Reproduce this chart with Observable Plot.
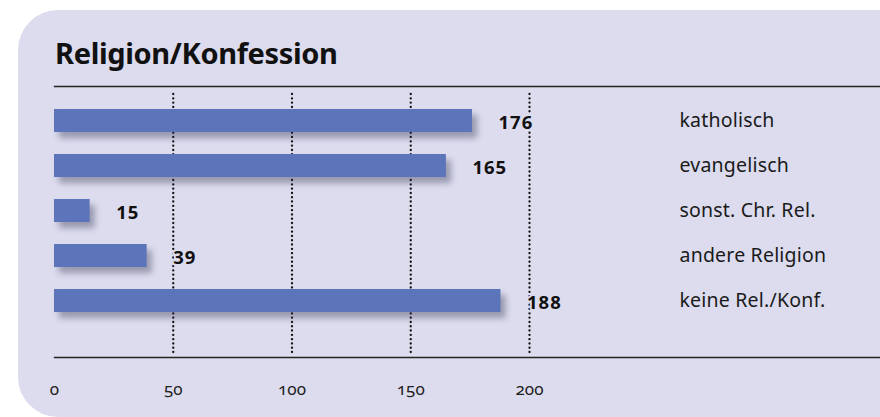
<!DOCTYPE html>
<html>
<head>
<meta charset="utf-8">
<script src="https://cdn.jsdelivr.net/npm/d3@7"></script>
<script src="https://cdn.jsdelivr.net/npm/@observablehq/plot@0.6"></script>
<style>
  html, body { margin: 0; padding: 0; background: #fff; }
  body { width: 880px; height: 417px; overflow: hidden; position: relative; font-family: "Noto Sans", sans-serif; }
  #panel { position: absolute; left: 18px; top: 10px; width: 900px; height: 407px; background: #dcdcee; border-radius: 40px 0 0 40px; }
  #title { position: absolute; left: 55px; top: 33px; font-family: "Noto Sans", sans-serif; font-weight: 700; font-size: 29px; letter-spacing: -0.35px; color: #111; margin: 0; }
  #chart { position: absolute; left: 0; top: 80px; }
  #chart svg { overflow: visible; }
  .xticks text { font-variant-numeric: oldstyle-nums; font-size: 17px; }
  .ycats text { font-size: 19.5px; letter-spacing: 0.2px; }
  .vals text { font-size: 18.5px; letter-spacing: 1px; }
</style>
</head>
<body>
<div id="panel"></div>
<h2 id="title">Religion/Konfession</h2>
<div id="chart"></div>
<script>
const categories = ["katholisch", "evangelisch", "sonst. Chr. Rel.", "andere Religion", "keine Rel./Konf."];
const values = [176, 165, 15, 39, 188];
const xTicks = [0, 50, 100, 150, 200];
const gridTicks = [50, 100, 150, 200];

const data = categories.map((c, i) => ({category: c, value: values[i]}));

const panel = "#dcdcee";
const plot = Plot.plot({
  width: 880,
  height: 337,
  marginLeft: 54,
  marginRight: 201,
  marginTop: 6,
  marginBottom: 60,
  style: {fontFamily: "Noto Sans, sans-serif", background: "transparent", color: "#1a1a1a"},
  x: {domain: [0, 625 / 2.375], axis: null},
  y: {domain: categories, range: [16.7, 243.7], paddingInner: 0.493, paddingOuter: 0.2465, axis: null},
  marks: [
    Plot.ruleX(gridTicks, {stroke: "#111", strokeWidth: 2.3, strokeDasharray: "0.1,4.2", strokeLinecap: "round", insetTop: 8, insetBottom: 3}),
    Plot.frame({anchor: "top", stroke: "#222", strokeWidth: 1.3, insetRight: -201}),
    Plot.frame({anchor: "bottom", stroke: "#222", strokeWidth: 1.3, insetRight: -201}),
    Plot.barX(data, {x: "value", y: "category", fill: "#5c74b9"}),
    Plot.text(data, {x: "value", y: "category", text: d => String(d.value), dx: 26, dy: 2, textAnchor: "start", fontWeight: "bold", fill: "#111", stroke: panel, strokeWidth: 4, className: "vals"}),
    Plot.axisY({anchor: "right", tickSize: 0, tickPadding: 0, fill: "#1a1a1a", label: null, className: "ycats"}),
    Plot.axisX({ticks: xTicks, tickSize: 0, tickPadding: 25, fill: "#222", label: null, className: "xticks"})
  ]
});
document.getElementById("chart").appendChild(plot);
// drop shadow on bars
d3.select(plot).selectAll('g[aria-label="bar"] rect').style("filter", "drop-shadow(5px 6px 3px rgba(40,40,70,0.38))");
</script>
</body>
</html>
